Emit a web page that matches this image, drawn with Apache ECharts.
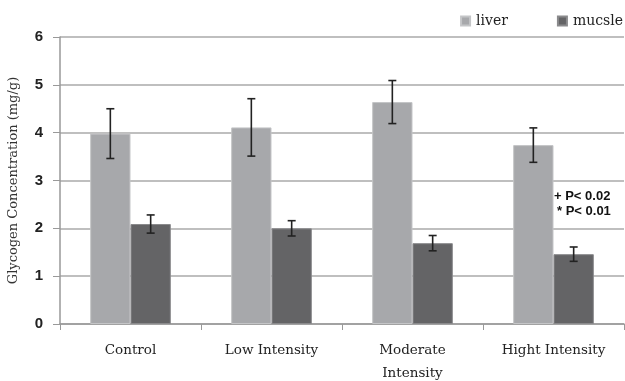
<!DOCTYPE html>
<html><head><meta charset="utf-8">
<script src="https://cdn.jsdelivr.net/npm/echarts@6/dist/echarts.min.js"></script>
<style>html,body{margin:0;padding:0;background:#fff}#c{width:625px;height:381px}</style>
</head><body><div id="c"></div>
<script>
const categories = ['Control', 'Low Intensity', 'Moderate\nIntensity', 'Hight Intensity'];
const liver = [3.98, 4.11, 4.64, 3.74];
const liverErr = [0.52, 0.60, 0.45, 0.36];
const mucsle = [2.09, 2.00, 1.69, 1.46];
const mucsleErr = [0.19, 0.16, 0.16, 0.15];
const yTicks = [0, 1, 2, 3, 4, 5, 6];

const BW = 0.286;
function errSeries(name, vals, errs, side) {
  return {
    type: 'custom', name: name + ' err', z: 10, silent: true,
    data: vals.map((v, i) => [i, v - errs[i], v + errs[i]]),
    renderItem: function (params, api) {
      const i = api.value(0);
      const lo = api.coord([i, api.value(1)]);
      const hi = api.coord([i, api.value(2)]);
      const bw = api.size([1, 0])[0] * BW;
      const x = lo[0] + side * bw / 2;
      const cap = 4;
      const st = { stroke: '#222', lineWidth: 1.6 };
      return { type: 'group', children: [
        { type: 'line', shape: { x1: x, y1: lo[1], x2: x, y2: hi[1] }, style: st },
        { type: 'line', shape: { x1: x - cap, y1: lo[1], x2: x + cap, y2: lo[1] }, style: st },
        { type: 'line', shape: { x1: x - cap, y1: hi[1], x2: x + cap, y2: hi[1] }, style: st }
      ]};
    }
  };
}

const chart = echarts.init(document.getElementById('c'), null, { renderer: 'canvas' });
chart.setOption({
  animation: false,
  backgroundColor: '#fff',
  legend: {
    top: 9, right: -3, itemWidth: 9, itemHeight: 9, itemGap: 49,
    icon: 'rect',
    data: ['liver', 'mucsle'],
    textStyle: { fontFamily: 'DejaVu Serif', fontSize: 14, color: '#222', padding: [0, 0, 0, 1] }
  },
  grid: { left: 60, right: 1, top: 37, bottom: 57, outerBoundsMode: 'none', containLabel: false },
  xAxis: {
    type: 'category', data: categories,
    axisLine: { lineStyle: { color: '#999', width: 1.5 } },
    axisTick: { show: true, length: 6, lineStyle: { color: '#999' } },
    axisLabel: { fontFamily: 'DejaVu Serif', fontSize: 13.5, color: '#222', margin: 15, lineHeight: 23 }
  },
  yAxis: {
    type: 'value', min: yTicks[0], max: yTicks[yTicks.length - 1], interval: 1,
    name: 'Glycogen Concentration (mg/g)', nameLocation: 'middle', nameGap: 40,
    nameTextStyle: { fontFamily: 'DejaVu Serif', fontSize: 13, color: '#333' },
    axisLine: { show: true, lineStyle: { color: '#999', width: 1.5 } },
    axisTick: { show: true, length: 7, lineStyle: { color: '#999' } },
    splitLine: { lineStyle: { color: '#aaa', width: 1.5 } },
    axisLabel: { fontFamily: 'Liberation Sans', fontWeight: 'bold', fontSize: 15, color: '#222', margin: 17 }
  },
  series: [
    { type: 'bar', name: 'liver', data: liver, barWidth: (BW * 100) + '%', barGap: '0%',
      itemStyle: { color: '#a7a8ab', borderColor: '#c4c5c7', borderWidth: 1 } },
    { type: 'bar', name: 'mucsle', data: mucsle, barWidth: (BW * 100) + '%', barGap: '0%',
      itemStyle: { color: '#646466', borderColor: '#8a8a8c', borderWidth: 1 } },
    errSeries('liver', liver, liverErr, -1),
    errSeries('mucsle', mucsle, mucsleErr, 1)
  ],
  graphic: [
    { type: 'text', left: 554, top: 190, style: { text: '+ P< 0.02', font: 'bold 13px "Liberation Sans"', fill: '#111' } },
    { type: 'text', left: 557, top: 205, style: { text: '* P< 0.01', font: 'bold 13px "Liberation Sans"', fill: '#111' } }
  ]
});
</script></body></html>
